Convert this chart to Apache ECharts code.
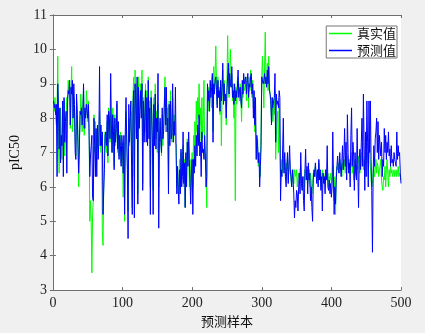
<!DOCTYPE html>
<html>
<head>
<meta charset="utf-8">
<title>pIC50 预测</title>
<script src="https://cdn.jsdelivr.net/npm/echarts@6/dist/echarts.min.js"></script>
<style>
html, body { margin: 0; padding: 0; background: #f0f0f0; }
#main { width: 425px; height: 333px; }
</style>
</head>
<body>
<div id="main"></div>
<script>
// 真实值 (样本 1..500)
var trueVals = [
  8.4, 8.2, 8.6, 8.0, 7.8, 8.3, 9.8, 7.2, 6.4, 7.5, 8.3, 7.0, 6.8, 8.2, 7.6, 8.5, 6.9, 7.4, 8.0, 8.6, 8.3, 9.1, 8.8, 8.9, 7.7,
  8.8, 9.5, 7.6, 8.0, 8.6, 8.6, 7.4, 6.9, 8.5, 8.2, 7.5, 6.0, 7.4, 7.8, 8.7, 8.3, 7.6, 8.4, 8.8, 7.5, 8.2, 7.7, 8.8, 8.5, 7.9,
  8.5, 7.8, 5.0, 5.6, 5.0, 3.5, 5.2, 5.6, 8.1, 7.0, 7.9, 6.6, 7.5, 7.8, 7.1, 7.6, 8.2, 7.5, 7.0, 7.4, 4.7, 4.3, 6.0, 7.2, 7.6,
  7.2, 7.0, 7.9, 6.7, 8.3, 8.2, 7.3, 8.1, 7.6, 7.0, 8.3, 7.4, 6.6, 8.1, 7.2, 7.6, 8.4, 7.0, 7.8, 6.9, 7.3, 7.6, 6.7, 7.2, 7.0,
  5.7, 7.3, 5.0, 7.4, 8.2, 7.5, 6.6, 5.3, 8.0, 7.2, 7.9, 8.2, 6.9, 5.4, 8.6, 9.2, 6.3, 9.4, 8.6, 7.6, 9.0, 5.8, 9.2, 7.8, 8.4,
  9.0, 8.3, 9.4, 6.1, 8.6, 7.5, 8.2, 9.0, 7.6, 8.8, 7.4, 9.2, 8.0, 8.5, 6.0, 8.8, 8.4, 7.0, 5.9, 8.6, 7.5, 9.0, 7.4, 8.2, 7.0,
  8.4, 6.0, 7.4, 7.9, 7.5, 6.9, 8.1, 7.2, 7.7, 8.5, 9.2, 7.6, 8.7, 7.8, 8.3, 6.2, 8.5, 7.4, 8.8, 7.8, 7.3, 8.6, 7.5, 8.1, 7.8,
  7.3, 7.2, 6.0, 6.6, 5.8, 6.2, 6.8, 6.0, 7.0, 6.3, 6.6, 7.2, 6.0, 6.8, 5.4, 6.9, 6.3, 7.4, 6.8, 7.3, 6.0, 6.8, 5.9, 6.5, 7.0,
  6.0, 7.5, 6.8, 7.9, 7.2, 8.5, 7.6, 8.6, 8.0, 9.0, 7.8, 8.3, 7.1, 8.6, 7.4, 8.0, 9.1, 7.0, 6.8, 6.4, 5.4, 8.6, 8.2, 8.9, 8.4,
  9.0, 8.7, 8.3, 9.2, 7.6, 9.5, 8.8, 9.3, 10.1, 9.0, 8.4, 9.2, 8.6, 8.9, 8.1, 9.0, 7.2, 8.7, 9.4, 8.5, 9.1, 8.6, 8.4, 7.8, 9.0,
  10.4, 9.2, 8.6, 9.4, 10.0, 8.9, 9.3, 8.5, 9.0, 8.0, 8.8, 5.6, 8.9, 8.4, 9.1, 9.2, 8.7, 8.5, 9.0, 8.6, 7.9, 8.9, 8.6, 9.2, 8.8,
  8.9, 9.1, 8.5, 9.2, 9.0, 8.3, 9.2, 8.8, 9.4, 9.0, 8.6, 9.1, 8.3, 8.5, 7.6, 8.0, 7.0, 6.8, 7.4, 6.6, 6.8, 6.5, 6.3, 7.8, 9.2,
  9.8, 9.0, 8.3, 9.4, 10.5, 9.2, 9.0, 9.6, 8.8, 9.8, 8.9, 8.7, 8.4, 8.0, 8.6, 7.9, 8.3, 8.1, 8.8, 6.8, 7.5, 8.0, 8.2, 7.0, 8.4,
  7.2, 6.3, 6.6, 6.8, 6.4, 6.9, 6.5, 6.8, 6.3, 6.7, 6.5, 6.9, 6.2, 6.6, 6.8, 6.4, 6.2, 6.0, 6.4, 6.5, 6.1, 6.5, 6.4, 6.3, 6.5,
  6.0, 6.3, 6.4, 6.1, 6.5, 6.6, 6.2, 6.0, 5.9, 6.3, 6.0, 6.5, 6.4, 6.2, 6.5, 6.1, 6.3, 6.5, 6.0, 6.4, 6.2, 5.8, 6.1, 6.4, 6.3,
  6.5, 6.6, 6.3, 6.4, 6.5, 6.2, 6.7, 6.3, 6.4, 6.0, 6.3, 6.5, 6.2, 6.4, 6.1, 6.3, 6.5, 6.3, 6.2, 6.4, 6.0, 6.3, 6.2, 6.4, 6.1,
  6.2, 6.6, 6.1, 5.6, 6.3, 5.2, 6.4, 6.6, 6.5, 6.7, 6.4, 6.8, 6.5, 6.6, 6.3, 6.7, 6.6, 6.5, 6.8, 6.4, 6.7, 6.5, 6.9, 6.6, 6.4,
  6.8, 6.5, 6.6, 7.0, 6.4, 6.6, 6.2, 6.5, 6.8, 6.4, 6.3, 6.6, 6.5, 6.9, 6.7, 6.4, 6.8, 7.0, 6.6, 6.9, 6.5, 6.8, 6.3, 6.7, 7.0,
  6.7, 7.0, 6.3, 6.9, 7.1, 6.6, 6.2, 6.0, 6.1, 6.4, 6.6, 6.3, 6.5, 6.8, 6.4, 6.7, 6.6, 6.3, 6.5, 6.6, 6.8, 6.2, 6.0, 5.9, 6.3,
  6.2, 6.6, 6.0, 6.5, 6.8, 6.4, 6.0, 6.5, 6.3, 6.6, 6.4, 6.5, 6.3, 6.4, 6.5, 6.3, 6.4, 6.5, 6.3, 6.4, 6.6, 6.3, 6.4, 6.3, 6.2
];
// 预测值
var predVals = [
  8.5, 8.3, 8.4, 8.1, 8.4, 6.3, 9.0, 8.3, 7.1, 8.3, 6.7, 7.5, 7.2, 8.5, 6.3, 8.6, 7.3, 7.9, 8.2, 6.4, 8.5, 8.8, 8.7, 9.1, 7.8,
  8.9, 8.7, 9.1, 8.0, 9.0, 8.4, 7.0, 6.8, 8.7, 8.1, 7.2, 6.4, 7.1, 8.2, 8.1, 8.3, 7.8, 8.1, 9.0, 7.7, 8.3, 8.0, 8.4, 8.4, 8.0,
  8.4, 7.5, 6.3, 6.9, 7.2, 7.5, 5.7, 5.6, 8.0, 7.2, 6.3, 7.7, 6.3, 7.8, 6.8, 7.3, 9.5, 7.2, 7.8, 7.2, 7.6, 5.2, 5.9, 6.5, 7.5,
  7.6, 7.2, 8.1, 6.9, 8.2, 8.0, 7.4, 9.3, 7.8, 7.0, 8.1, 7.6, 6.5, 8.0, 7.3, 7.7, 8.5, 7.1, 7.9, 6.8, 7.5, 7.2, 6.6, 7.5, 7.2,
  6.4, 7.5, 5.2, 7.6, 8.6, 7.4, 6.5, 4.5, 8.4, 7.3, 8.0, 8.5, 6.6, 5.2, 8.3, 8.8, 5.1, 9.0, 8.5, 7.4, 9.2, 5.5, 8.9, 7.7, 8.2,
  8.8, 8.0, 9.0, 5.9, 8.5, 7.3, 8.0, 8.8, 7.3, 8.6, 7.2, 9.1, 7.4, 8.3, 5.2, 8.6, 8.1, 7.3, 5.2, 8.4, 7.2, 8.7, 7.1, 8.0, 7.6,
  9.3, 4.8, 7.3, 8.0, 7.3, 7.0, 8.3, 7.4, 7.6, 8.3, 8.9, 7.8, 8.9, 7.6, 8.0, 5.8, 8.4, 7.2, 8.5, 7.4, 7.5, 9.0, 7.3, 7.9, 7.5,
  8.9, 7.0, 5.8, 6.6, 5.9, 5.5, 6.5, 5.8, 7.1, 6.0, 6.3, 7.6, 6.1, 6.7, 5.4, 7.0, 6.0, 7.3, 6.6, 7.6, 6.8, 6.1, 5.5, 6.4, 6.8,
  5.2, 6.8, 6.4, 7.2, 6.6, 7.5, 6.9, 7.8, 7.2, 8.1, 6.9, 7.3, 6.3, 7.6, 7.0, 7.1, 6.8, 7.5, 6.9, 6.0, 6.3, 9.0, 8.5, 8.8, 8.2,
  9.1, 8.6, 8.9, 9.3, 7.3, 9.0, 8.7, 9.1, 9.2, 8.8, 8.3, 9.1, 8.6, 8.8, 8.2, 9.1, 8.5, 8.9, 9.6, 8.4, 9.0, 8.5, 8.7, 8.0, 8.8,
  9.2, 9.6, 8.7, 9.3, 9.0, 8.9, 9.5, 8.6, 8.8, 8.4, 9.0, 8.5, 8.8, 8.6, 8.9, 9.4, 8.6, 8.8, 8.9, 8.5, 8.3, 9.1, 8.7, 9.3, 9.0,
  9.0, 9.2, 8.7, 9.1, 9.3, 8.6, 9.0, 8.9, 9.2, 9.3, 8.7, 9.0, 8.0, 8.8, 7.8, 8.6, 6.8, 7.5, 7.2, 6.7, 7.0, 6.0, 6.6, 7.2, 9.2,
  9.2, 9.0, 9.1, 9.3, 9.0, 9.2, 8.9, 9.4, 9.0, 9.5, 8.8, 8.7, 8.5, 7.8, 8.6, 8.3, 8.5, 8.6, 9.3, 7.3, 8.7, 8.4, 8.5, 8.3, 8.8,
  8.6, 5.6, 6.5, 6.3, 7.1, 8.0, 6.4, 7.0, 6.3, 6.0, 6.6, 7.0, 6.1, 6.6, 7.2, 6.5, 6.3, 6.0, 6.5, 6.2, 5.8, 5.1, 5.6, 5.4, 5.9,
  5.8, 5.3, 6.0, 6.4, 5.8, 7.0, 6.1, 5.9, 6.3, 5.6, 5.3, 6.4, 7.1, 6.2, 6.6, 5.8, 6.7, 6.2, 6.4, 5.6, 6.0, 5.4, 5.0, 6.2, 6.5,
  6.3, 6.7, 6.4, 6.1, 6.5, 6.0, 6.8, 6.2, 6.5, 5.9, 6.3, 5.3, 6.4, 6.1, 6.3, 5.8, 6.5, 6.2, 7.2, 6.0, 5.9, 6.2, 5.8, 6.1, 5.7,
  6.0, 7.6, 6.3, 5.2, 6.0, 5.5, 6.2, 6.6, 6.9, 6.5, 6.4, 7.0, 6.6, 6.3, 6.7, 7.2, 6.5, 6.9, 7.7, 6.6, 7.3, 6.2, 8.1, 7.0, 6.4,
  6.7, 6.0, 7.5, 8.3, 6.6, 7.3, 6.9, 5.9, 7.0, 6.4, 6.2, 7.7, 6.5, 5.4, 6.8, 7.1, 6.5, 7.3, 8.0, 6.6, 8.7, 7.2, 5.9, 7.6, 6.3,
  8.5, 7.3, 6.0, 8.5, 7.0, 8.5, 6.8, 5.9, 4.1, 6.4, 7.2, 6.6, 7.4, 7.6, 8.0, 7.0, 7.9, 6.8, 7.5, 7.2, 6.9, 7.3, 6.3, 6.8, 6.6,
  7.7, 7.0, 7.5, 6.8, 7.3, 7.0, 7.6, 6.9, 7.1, 6.6, 7.2, 6.7, 6.8, 6.6, 7.0, 6.8, 6.7, 6.6, 7.6, 6.8, 7.2, 6.9, 7.0, 6.4, 6.1
];
var seriesNames = ['真实值', '预测值'];

// 样本序号从 1 开始
function toPairs(arr) {
  var out = [];
  for (var i = 0; i < arr.length; i++) {
    out.push([i + 1, arr[i]]);
  }
  return out;
}

var serif = 'Liberation Serif, Times New Roman, serif';
var cjk = 'Noto Sans CJK SC, sans-serif';
var axisColor = '#6e6e6e';

var myChart = echarts.init(document.getElementById('main'));
var option = {
  animation: false,
  backgroundColor: '#f0f0f0',
  grid: {
    left: 47,
    right: 24,
    top: 15,
    bottom: 38,
    show: true,
    backgroundColor: '#fff',
    borderWidth: 0
  },
  legend: {
    data: seriesNames,
    orient: 'vertical',
    right: 28,
    top: 26,
    itemWidth: 23,
    itemHeight: 12,
    itemGap: 4,
    padding: [1, 1, 1, 2],
    backgroundColor: '#fff',
    borderColor: '#777',
    borderWidth: 1,
    borderRadius: 0,
    itemStyle: { opacity: 0 }, // 图例只显示线段
    lineStyle: { width: 1.5 },
    textStyle: {
      fontFamily: cjk,
      fontSize: 13,
      color: '#111'
    }
  },
  xAxis: [{
    type: 'value',
    min: 0,
    max: 500,
    interval: 100,
    name: '预测样本',
    nameLocation: 'middle',
    nameGap: 21,
    nameTextStyle: { fontFamily: cjk, fontSize: 13, color: '#111' },
    axisLine: { lineStyle: { color: axisColor, width: 1 } },
    axisTick: { inside: true, length: 3, lineStyle: { color: axisColor } },
    axisLabel: { fontFamily: serif, fontSize: 14, color: '#222', margin: 6 },
    splitLine: { show: false }
  }, {
    // 上边框刻度
    type: 'value',
    position: 'top',
    min: 0,
    max: 500,
    interval: 100,
    axisLine: { lineStyle: { color: axisColor, width: 1 } },
    axisTick: { inside: true, length: 3, lineStyle: { color: axisColor } },
    axisLabel: { show: false },
    splitLine: { show: false }
  }],
  yAxis: [{
    type: 'value',
    min: 3,
    max: 11,
    interval: 1,
    name: 'pIC50',
    nameLocation: 'middle',
    nameGap: 28,
    nameTextStyle: { fontFamily: serif, fontSize: 14, color: '#111' },
    axisLine: { show: true, lineStyle: { color: axisColor, width: 1 } },
    axisTick: { show: true, inside: true, length: 3, lineStyle: { color: axisColor } },
    axisLabel: { fontFamily: serif, fontSize: 14, color: '#222', margin: 6 },
    splitLine: { show: false }
  }, {
    // 右边框刻度
    type: 'value',
    position: 'right',
    min: 3,
    max: 11,
    interval: 1,
    axisLine: { show: true, lineStyle: { color: axisColor, width: 1 } },
    axisTick: { show: true, inside: true, length: 3, lineStyle: { color: axisColor } },
    axisLabel: { show: false },
    splitLine: { show: false }
  }],
  series: [{
    name: seriesNames[0],
    type: 'line',
    data: toPairs(trueVals),
    symbol: 'none',
    color: '#00ff00',
    lineStyle: { width: 1, color: '#00ff00' }
  }, {
    name: seriesNames[1],
    type: 'line',
    data: toPairs(predVals),
    symbol: 'none',
    color: '#0000ff',
    lineStyle: { width: 1, color: '#0000ff' }
  }]
};
myChart.setOption(option);
</script>
</body>
</html>
